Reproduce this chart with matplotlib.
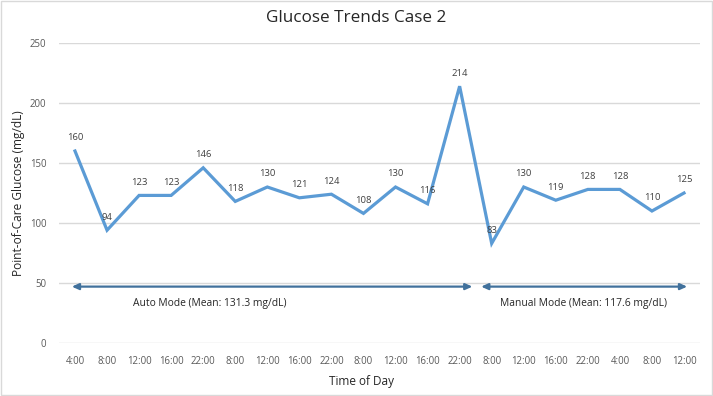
import matplotlib.pyplot as plt

# data
times = ['4:00', '8:00', '12:00', '16:00', '22:00', '8:00', '12:00', '16:00', '22:00',
         '8:00', '12:00', '16:00', '22:00', '8:00', '12:00', '16:00', '22:00', '4:00',
         '8:00', '12:00']
glucose = [160, 94, 123, 123, 146, 118, 130, 121, 124, 108, 130, 116, 214,
           83, 130, 119, 128, 128, 110, 125]
auto_label = 'Auto Mode (Mean: 131.3 mg/dL)'
manual_label = 'Manual Mode (Mean: 117.6 mg/dL)'
auto_span = (-0.1, 12.4)
manual_span = (12.67, 19.1)

plt.rcParams['font.family'] = ['Open Sans', 'DejaVu Sans']

fig = plt.figure(figsize=(7.13, 3.96), dpi=100)
ax = fig.add_axes([0.0827, 0.1338, 0.8991, 0.7576])

x = list(range(len(glucose)))
ax.plot(x, glucose, color='#5B9BD5', lw=2.3, solid_joinstyle='miter', zorder=3)

for xi, v in zip(x, glucose):
    ax.annotate(str(v), (xi, v), xytext=(0, 9.5), textcoords='offset points',
                ha='center', va='center', fontsize=6.8, color='#404040')

# mode arrows
arrow_kw = dict(arrowstyle='<|-|>,head_length=0.4,head_width=0.18', color='#41719C', lw=1.6,
                shrinkA=0, shrinkB=0)
ax.annotate('', xy=(auto_span[0], 47), xytext=(auto_span[1], 47), arrowprops=arrow_kw, zorder=4)
ax.annotate('', xy=(manual_span[0], 47), xytext=(manual_span[1], 47), arrowprops=arrow_kw, zorder=4)
ax.text(4.2, 33, auto_label, ha='center', va='center', fontsize=7.4, color='#262626')
ax.text(15.85, 33, manual_label, ha='center', va='center', fontsize=7.4, color='#262626')

ax.set_xlim(-0.5, len(glucose) - 0.5)
ax.set_ylim(0, 250)
ax.set_yticks(range(0, 251, 50))
ax.set_xticks(x)
ax.set_xticklabels(times)
ax.tick_params(length=0, labelsize=6.9, labelcolor='#595959', pad=9)
ax.tick_params(axis='y', pad=9)
ax.grid(axis='y', color='#D9D9D9', lw=1)
ax.set_axisbelow(True)
for s in ax.spines.values():
    s.set_visible(False)

ax.set_xlabel('Time of Day', fontsize=8.5, color='#262626')
ax.xaxis.set_label_coords((362 - 59) / 641, -0.105)
ax.set_ylabel('Point-of-Care Glucose (mg/dL)', fontsize=8.6, color='#262626')
ax.yaxis.set_label_coords((25 - 59) / 641, 0.5)
fig.text(0.5, 1 - 18 / 396, 'Glucose Trends Case 2', ha='center', va='center',
         fontsize=12.3, color='#262626')

# outer border
fig.patches.append(plt.Rectangle((0.002, 0.003), 0.996, 0.994, transform=fig.transFigure,
                                 fill=False, edgecolor='#D9D9D9', lw=1))

plt.savefig('out.png', dpi=100)
